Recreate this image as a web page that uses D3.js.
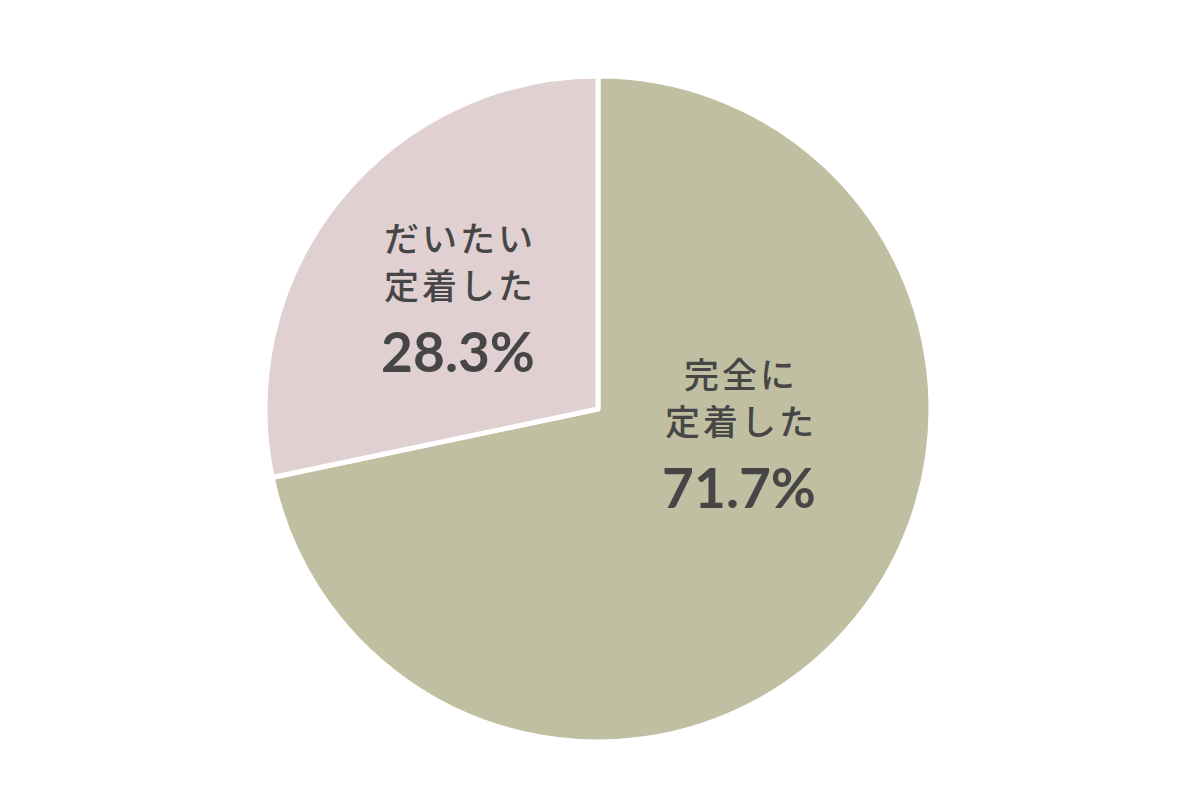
<!DOCTYPE html>
<meta charset="utf-8">
<script src="https://d3js.org/d3.v7.min.js"></script>
<style>
  body { margin: 0; background: #fff; }
</style>
<svg id="chart" width="1200" height="788"></svg>
<script>
    // data
    var labels = [["完全に", "定着した"], ["だいたい", "定着した"]];
    var values = [71.7, 28.3];
    var colors = ["#c0bfa1", "#e1d0d2"];

    var svg = d3.select("#chart"),
        width = +svg.attr("width"),
        height = +svg.attr("height");

    var cx = 598, cy = 409, radius = 333;

    var pie = d3.pie().sort(null).value(d => d)(values);
    var arc = d3.arc().innerRadius(0).outerRadius(radius);

    var g = svg.append("g").attr("transform", "translate(" + cx + "," + cy + ")");

    g.selectAll("path")
        .data(pie)
        .enter().append("path")
        .attr("d", arc)
        .attr("fill", (d, i) => colors[i])
        .style("stroke", "#fff")
        .style("stroke-width", 5)
        .style("stroke-linejoin", "round");

    // label anchor = baseline of the percentage, relative to centre
    var anchors = [[141, 99], [-140, -37]];

    var lg = g.selectAll("g.label")
        .data(pie)
        .enter().append("g")
        .attr("class", "label")
        .attr("transform", (d, i) => "translate(" + anchors[i][0] + "," + anchors[i][1] + ")");

    lg.each(function(d, i) {
        var t = d3.select(this);
        labels[i].forEach((s, j) => {
            t.append("text")
                .attr("x", 2)
                .attr("y", -120 + j * 47)
                .attr("text-anchor", "middle")
                .style("font-family", "'Noto Sans CJK JP', sans-serif")
                .style("font-weight", 500)
                .style("font-size", "35px")
                .style("letter-spacing", "3px")
                .style("fill", "#464646")
                .text(s);
        });
        t.append("text")
            .attr("x", 0)
            .attr("y", 0)
            .attr("text-anchor", "middle")
            .style("font-family", "Lato, sans-serif")
            .style("font-weight", 700)
            .style("font-size", "55px")
            .style("fill", "#464646")
            .text(values[i].toFixed(1) + "%");
    });
</script>
